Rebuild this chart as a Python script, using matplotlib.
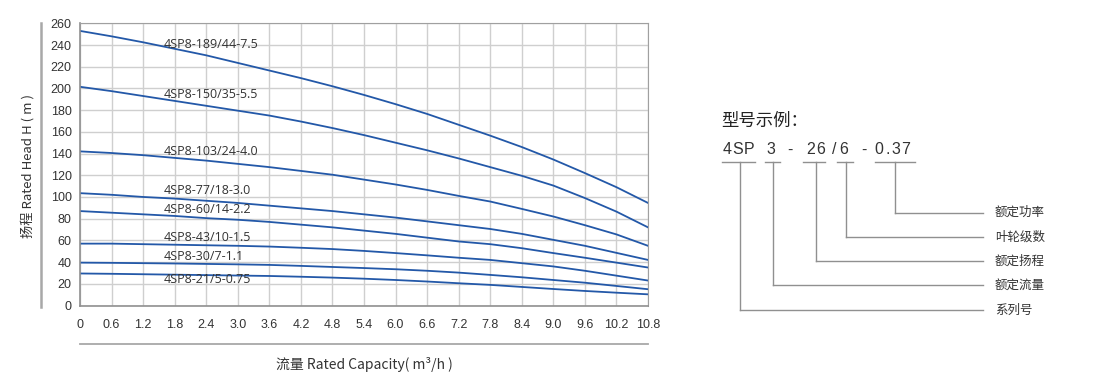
import matplotlib
matplotlib.use("Agg")
import matplotlib.pyplot as plt

plt.rcParams["font.family"] = ["Liberation Sans", "Noto Sans CJK SC", "DejaVu Sans"]

flow = [0, 0.6, 1.2, 1.8, 2.4, 3.0, 3.6, 4.2, 4.8, 5.4, 6.0, 6.6, 7.2, 7.8, 8.4,
        9.0, 9.6, 10.2, 10.8]

h_189 = [253, 248, 242.5, 236.5, 230.5, 223.5, 216.5, 209.5, 202, 194, 185.5, 176.5,
         166.5, 156.5, 146, 134.5, 122, 109, 94.5]
h_150 = [201.5, 197.5, 193, 188.5, 184, 179.5, 175, 169.5, 163.5, 157, 150, 143,
         135.5, 127.5, 119.5, 110.5, 99, 86.5, 72]
h_103 = [142, 140.5, 138.5, 136, 133.5, 130.5, 127.5, 124, 120.5, 116, 111.5, 106.5,
         101, 95.8, 89, 82, 74, 65.5, 55]
h_77 = [103.5, 102, 100, 98.5, 96.5, 94.5, 92, 89.5, 87, 84, 81, 77.5,
        74, 70.5, 66, 60.5, 55, 48.5, 42]
h_60 = [87, 85.5, 84, 82.5, 80.5, 79, 77, 74.5, 72, 69, 66, 62.5,
        59, 56.5, 52.8, 48.3, 44, 39.5, 35]
h_43 = [57, 57, 56.5, 56, 55.5, 55, 54.3, 53.2, 52, 50.3, 48.3, 46.2,
        44, 42, 39, 36, 32, 27.5, 23]
h_30 = [39.5, 39.3, 39, 38.7, 38.3, 37.9, 37.4, 36.5, 35.5, 34.5, 33.4, 32,
        30.3, 28.2, 26, 23.5, 21, 18, 15]
h_21 = [29.5, 29.2, 28.8, 28.4, 28, 27.6, 27.2, 26.5, 25.7, 24.7, 23.5, 22.1,
        20.5, 19, 17.1, 15.2, 13.4, 11.8, 10.3]

models = ["4SP8-189/44-7.5", "4SP8-150/35-5.5", "4SP8-103/24-4.0", "4SP8-77/18-3.0",
          "4SP8-60/14-2.2", "4SP8-43/10-1.5", "4SP8-30/7-1.1", "4SP8-21/5-0.75"]
heads = [h_189, h_150, h_103, h_77, h_60, h_43, h_30, h_21]
label_y = [240.5, 194, 142, 105.5, 88, 63, 45, 23.5]
label_x = 1.6

x_ticks = [0, 0.6, 1.2, 1.8, 2.4, 3.0, 3.6, 4.2, 4.8, 5.4, 6.0, 6.6, 7.2, 7.8, 8.4,
           9.0, 9.6, 10.2, 10.8]
x_tick_labels = ["0", "0.6", "1.2", "1.8", "2.4", "3.0", "3.6", "4.2", "4.8", "5.4",
                 "6.0", "6.6", "7.2", "7.8", "8.4", "9.0", "9.6", "10.2", "10.8"]
y_ticks = list(range(0, 261, 20))

# model code legend
code_chars = ["4", "S", "P", "3", "-", "2", "6", "/", "6", "-", "0", ".", "3", "7"]
parts = ["额定功率", "叶轮级数", "额定扬程", "额定流量", "系列号"]

W, H = 1100, 390
fig = plt.figure(figsize=(11, 3.9), dpi=100)
ax = fig.add_axes([80 / W, 1 - 305.5 / H, 568 / W, 282.2 / H])

line_color = "#2358a8"
for name, h, ly in zip(models, heads, label_y):
    ax.plot(flow, h, color=line_color, lw=1.3, solid_joinstyle="round")
    ax.text(label_x, ly, name, fontsize=9, color="#333333", va="center", ha="left",
            family=["Open Sans", "DejaVu Sans"])

ax.set_xlim(0, 10.8)
ax.set_ylim(0, 260)
ax.set_xticks(x_ticks, x_tick_labels)
ax.set_yticks(y_ticks)
ax.tick_params(length=0, labelsize=9, colors="#333333")
ax.tick_params(axis="x", pad=10)
ax.tick_params(axis="y", pad=6)
ax.grid(True, color="#cfcfcf", lw=1)
ax.set_axisbelow(True)
for s in ["top", "right"]:
    ax.spines[s].set_color("#a0a0a0")
for s in ["left", "bottom"]:
    ax.spines[s].set_color("#909090")
    ax.spines[s].set_linewidth(1.2)


def px(x, y):
    return x / W, 1 - y / H


# extra decorative rules
fig.add_artist(plt.Line2D([41 / W, 41 / W], [1 - 23 / H, 1 - 307 / H], color="#a8a8a8", lw=1.8))
fig.add_artist(plt.Line2D([80 / W, 648 / W], [1 - 344 / H, 1 - 344 / H], color="#a8a8a8", lw=1.3))

cjk = ["Noto Sans CJK SC", "DejaVu Sans"]
fig.text(*px(28, 166), "扬程 Rated Head H ( m )", rotation=90, fontsize=9.5, color="#333333",
         ha="center", va="center", family=cjk)
fig.text(*px(364, 364), "流量 Rated Capacity( m³/h )", fontsize=10, color="#333333",
         ha="center", va="center", family=cjk)

# model code example
fig.text(*px(721, 121), "型号示例：", fontsize=12.5, color="#222222", ha="left", va="center",
         family=cjk)
char_x = [727, 738, 749, 771, 790, 811, 821, 834, 844, 864, 879, 888, 896, 906]
for c, cx in zip(code_chars, char_x):
    fig.text(*px(cx, 150), c, fontsize=11.5, color="#333333", ha="center", va="center",
             family=["Liberation Sans"])

gray = "#909090"
underlines = [(721.5, 755), (765, 780), (803, 825), (836.5, 853), (875, 915)]
for x0, x1 in underlines:
    fig.add_artist(plt.Line2D([x0 / W, x1 / W], [1 - 161.7 / H] * 2, color=gray, lw=1))

drops = [(895, 212.7), (845.7, 236.7), (815.7, 261), (773.3, 285), (740, 310)]
for (dx, dy), txt in zip(drops, parts):
    fig.add_artist(plt.Line2D([dx / W, dx / W], [1 - 161.7 / H, 1 - dy / H], color=gray, lw=1))
    fig.add_artist(plt.Line2D([dx / W, 983 / W], [1 - dy / H] * 2, color=gray, lw=1))
    fig.text(*px(995, dy), txt, fontsize=9, color="#333333", ha="left", va="center", family=cjk)

fig.savefig("out.png", dpi=100)
